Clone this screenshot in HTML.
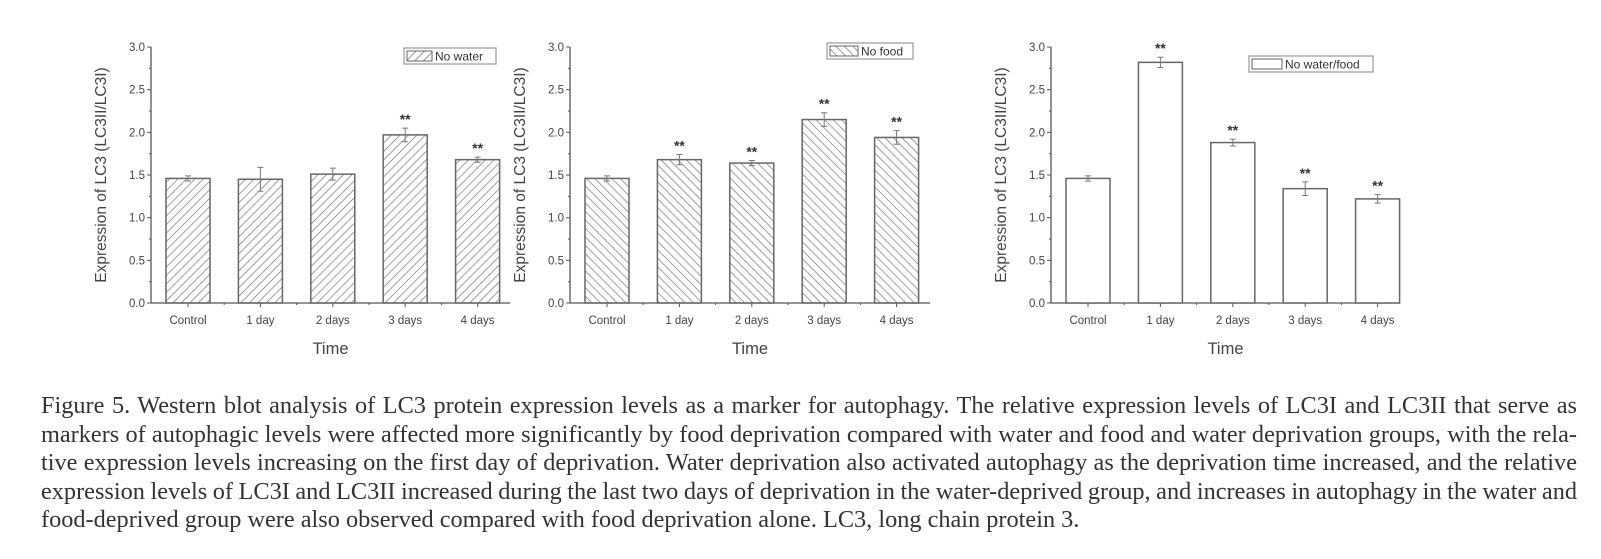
<!DOCTYPE html>
<html><head><meta charset="utf-8">
<style>
body{margin:0;background:#fff;width:1601px;height:559px;overflow:hidden;position:relative}
svg{position:absolute;left:0;top:0}
.cap{position:absolute;left:41px;width:1536px;font-family:"Liberation Serif",serif;font-size:24px;color:#333;}
.cap div{height:28.6px;line-height:28.6px;white-space:nowrap}
.cap span{display:inline-block;white-space:nowrap}
</style></head><body>
<svg id="fig" width="1601" height="400">
<defs>
<pattern id="hatchA" patternUnits="userSpaceOnUse" width="6" height="6" patternTransform="rotate(45)"><line x1="0" y1="0" x2="0" y2="6" stroke="#777" stroke-width="1.4"/></pattern>
<pattern id="hatchB" patternUnits="userSpaceOnUse" width="6" height="6" patternTransform="rotate(-45)"><line x1="0" y1="0" x2="0" y2="6" stroke="#777" stroke-width="1.4"/></pattern>
</defs>
</svg>
<div class="cap" id="cap" style="top:392px">
<div><span>Figure 5. Western blot analysis of LC3 protein expression levels as a marker for autophagy. The relative expression levels of LC3I and LC3II that serve as</span></div>
<div><span>markers of autophagic levels were affected more significantly by food deprivation compared with water and food and water deprivation groups, with the rela-</span></div>
<div><span>tive expression levels increasing on the first day of deprivation. Water deprivation also activated autophagy as the deprivation time increased, and the relative</span></div>
<div><span>expression levels of LC3I and LC3II increased during the last two days of deprivation in the water-deprived group, and increases in autophagy in the water and</span></div>
<div><span id="lastline">food-deprived group were also observed compared with food deprivation alone. LC3, long chain protein 3.</span></div>
</div>
<script>
const categories=["Control","1 day","2 days","3 days","4 days"];
const yTicks=[0,0.5,1,1.5,2,2.5,3];
const noWaterValues=[1.46,1.45,1.51,1.97,1.68];
const noWaterErrors=[0.03,0.14,0.07,0.08,0.03];
const noWaterSig=["","","","**","**"];
const noFoodValues=[1.46,1.68,1.64,2.15,1.94];
const noFoodErrors=[0.03,0.06,0.03,0.08,0.08];
const noFoodSig=["","**","**","**","**"];
const bothValues=[1.46,2.82,1.88,1.34,1.22];
const bothErrors=[0.03,0.06,0.04,0.08,0.05];
const bothSig=["","**","**","**","**"];

const NS="http://www.w3.org/2000/svg";
const svg=document.getElementById('fig');
function mk(t,a,p){const e=document.createElementNS(NS,t);for(const k in a)e.setAttribute(k,a[k]);(p||svg).appendChild(e);return e;}
const Y0=303,Y1=47;
function yScale(v){return Y0-(v/3)*(Y0-Y1);}

function chart(cfg){
  const g=mk('g',{});
  
  
  const ax=cfg.ax, step=72.4, first=ax+37, bw=44;
  const xScale=i=>first+i*step;
  const col='#555';
  const ya=mk('line',{x1:ax,y1:Y1,x2:ax,y2:Y0,stroke:col,'stroke-width':1.3},g);
  
  const xa=mk('line',{x1:ax,y1:Y0,x2:cfg.right,y2:Y0,stroke:col,'stroke-width':1.3},g);
  
  yTicks.forEach((t,i)=>{
    const y=yScale(t);
    mk('line',{x1:ax-4,y1:y,x2:ax,y2:y,stroke:col},g);
    if(i<yTicks.length-1) mk('line',{x1:ax-2,y1:yScale(t+0.25),x2:ax,y2:yScale(t+0.25),stroke:col},g);
    const tx=mk('text',{x:ax-6,y:y+4,'text-anchor':'end','font-family':'Liberation Sans,sans-serif','font-size':11.5,fill:'#444'},g);
    tx.textContent=t.toFixed(1);
    
  });
  const yl=mk('text',{x:0,y:0,transform:`translate(${ax-45},${(Y0+Y1)/2}) rotate(-90)`,'text-anchor':'middle','font-family':'Liberation Sans,sans-serif','font-size':15.5,fill:'#444'},g);
  yl.textContent='Expression of LC3 (LC3II/LC3I)';
  
  categories.forEach((c,i)=>{
    const x=xScale(i);
    mk('line',{x1:x,y1:Y0,x2:x,y2:Y0+4,stroke:col},g);
    if(i<categories.length-1) mk('line',{x1:x+step/2,y1:Y0,x2:x+step/2,y2:Y0+2,stroke:col},g);
    const tx=mk('text',{x:x,y:Y0+21,'text-anchor':'middle','font-family':'Liberation Sans,sans-serif','font-size':11.5,fill:'#444'},g);
    tx.textContent=c;
    
    const v=cfg.values[i],e=cfg.errors[i],yv=yScale(v);
    const b=mk('rect',{x:x-bw/2,y:yv,width:bw,height:Y0-yv,fill:cfg.fill,stroke:'#666','stroke-width':1.5},g);
    
    const eh=yScale(v+e),el=yScale(v-e);
    const eb=mk('path',{d:`M${x},${eh}V${el}M${x-3},${eh}H${x+3}M${x-3},${el}H${x+3}`,stroke:'#777',fill:'none','stroke-width':1},g);
    
    if(cfg.sig[i]){
      const s=mk('text',{x:x,y:eh-4,'text-anchor':'middle','font-family':'Liberation Sans,sans-serif','font-size':14,'font-weight':'bold',fill:'#333'},g);
      s.textContent=cfg.sig[i];
      
    }
  });
  const xl=mk('text',{x:(ax+cfg.right)/2,y:Y0+51,'text-anchor':'middle','font-family':'Liberation Sans,sans-serif','font-size':16.5,fill:'#444'},g);
  xl.textContent='Time';
  
  const L=cfg.leg;
  const lg=mk('g',{},g);
  
  mk('rect',{x:L.x,y:L.y,width:L.w,height:16,fill:'#fff',stroke:'#999','stroke-width':1.2},lg);
  mk('rect',{x:L.x+3,y:L.y+3,width:L.sw,height:10,fill:cfg.fill,stroke:'#666'},lg);
  const lt=mk('text',{x:L.x+L.sw+6,y:L.y+12.5,'font-family':'Liberation Sans,sans-serif','font-size':12,fill:'#333'},lg);
  lt.textContent=cfg.label;
  
}
chart({name:'chart-no-water',ax:151,right:510,values:noWaterValues,errors:noWaterErrors,sig:noWaterSig,fill:'url(#hatchA)',label:'No water',leg:{x:404,y:48,w:92,sw:25}});
chart({name:'chart-no-food',ax:570,right:930,values:noFoodValues,errors:noFoodErrors,sig:noFoodSig,fill:'url(#hatchB)',label:'No food',leg:{x:827,y:43,w:86,sw:28}});
chart({name:'chart-no-water-food',ax:1051,right:1400,values:bothValues,errors:bothErrors,sig:bothSig,fill:'#fff',label:'No water/food',leg:{x:1249,y:56,w:124,sw:30}});

(function(){
  const cap=document.getElementById('cap');
  const last=document.getElementById('lastline');
  const fs=24*1039/last.getBoundingClientRect().width;
  cap.style.fontSize=fs+'px';
  const W=1536;
  cap.querySelectorAll('span').forEach(s=>{
    if(s===last) return;
    const w=s.getBoundingClientRect().width;
    const n=(s.textContent.match(/ /g)||[]).length;
    if(n) s.style.wordSpacing=((W-w)/n)+'px';
  });
})();
</script>
</body></html>
